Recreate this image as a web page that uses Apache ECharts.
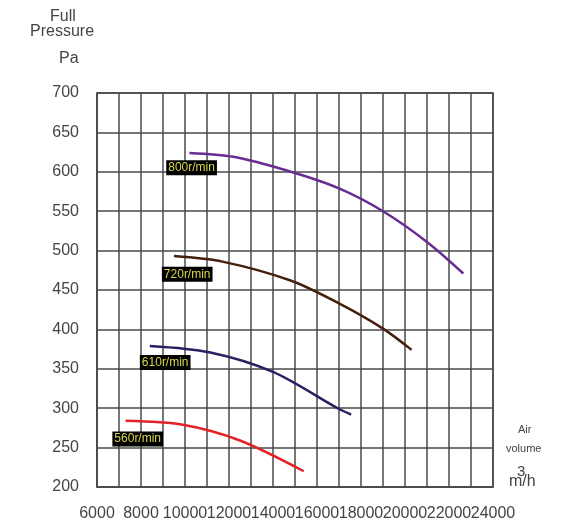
<!DOCTYPE html>
<html>
<head>
<meta charset="utf-8">
<script src="https://cdn.jsdelivr.net/npm/echarts@6/dist/echarts.min.js"></script>
<style>
  html, body { margin: 0; padding: 0; background: #fff; }
  #chart { width: 573px; height: 529px; }
</style>
</head>
<body>
<div id="chart"></div>
<script>
// fan curves, air volume (m3/h) vs full pressure (Pa)
var speeds = ["800r/min", "720r/min", "610r/min", "560r/min"];
var colors = ["#6a2c91", "#45200f", "#262262", "#e32228"];

var flow800 = [10200, 12200, 14700, 17000, 19000, 21000, 22650];
var pres800 = [624, 619, 601, 579, 550, 511, 471];

var flow720 = [9500, 11700, 14800, 17000, 19000, 20300];
var pres720 = [493, 486, 462, 433, 401, 374];

var flow610 = [8400, 11100, 14000, 17000, 17550];
var pres610 = [379, 371, 346, 299, 292];

var flow560 = [7300, 9900, 12500, 15400];
var pres560 = [284, 279, 259, 220];

// where the speed tags sit (data coords)
var tagX = [10300, 10100, 9100, 7850];
var tagY = [605, 470, 358, 261];

var xTicks = { min: 6000, max: 24000, step: 1000 };
var yTicks = { min: 200, max: 700, step: 50 };

function pairs(xs, ys) {
  return xs.map(function (x, i) { return [x, ys[i]]; });
}

var flows = [flow800, flow720, flow610, flow560];
var press = [pres800, pres720, pres610, pres560];

var series = speeds.map(function (name, i) {
  return {
    name: name,
    type: "line",
    smooth: 0.3,
    showSymbol: false,
    symbol: "none",
    lineStyle: { color: colors[i], width: 2.5 },
    data: pairs(flows[i], press[i]),
    markPoint: {
      symbol: "rect",
      symbolSize: 0,
      data: [{ coord: [tagX[i], tagY[i]], value: name }],
      label: {
        show: true,
        position: "inside",
        formatter: name,
        color: "#d8d64a",
        backgroundColor: "#000",
        padding: [2, 2, 1, 2],
        fontFamily: "Liberation Sans Narrow, Liberation Sans, Arial",
        fontSize: 12
      }
    }
  };
});

var grey = "#4a4a4a";
var chart = echarts.init(document.getElementById("chart"));
chart.setOption({
  animation: false,
  grid: { left: 97, right: 80, top: 93, bottom: 42, show: true, borderColor: grey, borderWidth: 1.5 },
  xAxis: {
    type: "value",
    min: xTicks.min,
    max: xTicks.max,
    interval: xTicks.step,
    axisLine: { show: true, lineStyle: { color: grey, width: 1.5 } },
    axisTick: { show: false },
    splitLine: { show: true, lineStyle: { color: grey, width: 1.5 } },
    axisLabel: {
      color: "#444",
      fontSize: 16,
      fontFamily: "Liberation Sans, Arial",
      margin: 19,
      formatter: function (v) { return v % 2000 === 0 ? String(v) : ""; }
    }
  },
  yAxis: {
    type: "value",
    min: yTicks.min,
    max: yTicks.max,
    interval: yTicks.step,
    axisLine: { show: true, lineStyle: { color: grey, width: 1.5 } },
    axisTick: { show: false },
    splitLine: { show: true, lineStyle: { color: grey, width: 1.5 } },
    axisLabel: {
      color: "#444",
      fontSize: 16,
      fontFamily: "Liberation Sans, Arial",
      margin: 18,
      padding: [4, 0, 0, 0]
    }
  },
  graphic: [
    { type: "text", left: 50, top: 9, style: { text: "Full", fill: "#444", font: "16px Liberation Sans" } },
    { type: "text", left: 30, top: 24, style: { text: "Pressure", fill: "#444", font: "16px Liberation Sans" } },
    { type: "text", left: 59, top: 51, style: { text: "Pa", fill: "#444", font: "16px Liberation Sans" } },
    { type: "text", left: 518, top: 424, style: { text: "Air", fill: "#444", font: "11px Liberation Sans" } },
    { type: "text", left: 506, top: 443, style: { text: "volume", fill: "#444", font: "11px Liberation Sans" } },
    { type: "text", left: 509, top: 474, style: { text: "m/h", fill: "#444", font: "16px Liberation Sans" } },
    { type: "text", left: 517, top: 464, style: { text: "3", fill: "#444", font: "15px Liberation Sans" } }
  ],
  series: series
});
</script>
</body>
</html>
